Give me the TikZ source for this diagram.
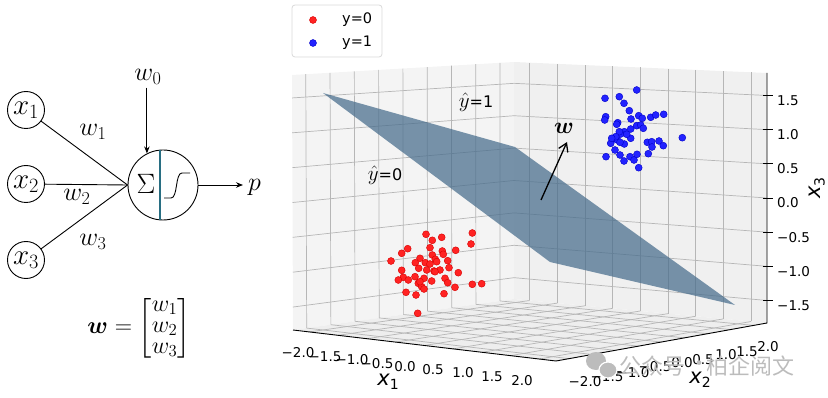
\RequirePackage{fix-cm}
\documentclass[tikz,border=0pt]{standalone}
\usepackage{amsmath}
\usepackage{fontspec}
\usetikzlibrary{calc,arrows.meta}
\newfontfamily\mpl{DejaVu Sans}
\newfontfamily\cjk{Noto Sans CJK SC}
\definecolor{gridc}{RGB}{182,182,182}
\definecolor{paneL}{RGB}{244,244,244}
\definecolor{paneR}{RGB}{240,240,240}
\definecolor{paneF}{RGB}{238,238,238}
\definecolor{planec}{RGB}{70,108,140}
\definecolor{rfill}{RGB}{255,35,35}
\definecolor{rdraw}{RGB}{215,0,0}
\definecolor{bfill}{RGB}{35,35,255}
\definecolor{bdraw}{RGB}{0,0,200}
\definecolor{divc}{RGB}{40,110,130}
\definecolor{wmc}{RGB}{188,188,188}
\newcommand\axl[1]{{\mpl\fontsize{21}{22}\selectfont\itshape x\raisebox{-4pt}{\upshape\fontsize{14}{14}\selectfont #1}}}
\begin{document}
\begin{tikzpicture}[x=1pt,y=-1pt,
  inp/.style={circle,draw,line width=0.9pt,minimum size=37pt,inner sep=0pt,font=\fontsize{29}{30}\selectfont},
  neuron/.style={circle,draw,line width=0.9pt,minimum size=70pt,inner sep=0pt},
  conn/.style={line width=0.9pt},
  arr/.style={line width=0.9pt,-{Stealth[length=7pt,width=5.5pt]}},
  mlab/.style={inner sep=0pt,font=\fontsize{26}{27}\selectfont},
  gridline/.style={draw=gridc,line width=0.7pt},
  rdot/.style={fill=rfill,draw=rdraw,line width=0.4pt},
  bdot/.style={fill=bfill,draw=bdraw,line width=0.4pt},
  tlab/.style={inner sep=0pt,font=\mpl\fontsize{13.5}{15}\selectfont},
  leglab/.style={inner sep=0pt,anchor=west,font=\mpl\fontsize{14.5}{16}\selectfont},
  yhat/.style={inner sep=0pt,font=\mpl\fontsize{16}{17}\selectfont},
  wm/.style={inner sep=0pt,anchor=west,text=wmc,font=\cjk\fontsize{22}{23}\selectfont}
]
\useasboundingbox (0,0) rectangle (828,398);

% ---------------- neuron ----------------
\node[inp] (x1) at (26,110) {$x_1$};
\node[inp] (x2) at (26,184) {$x_2$};
\node[inp] (x3) at (26,260) {$x_3$};
\node[neuron] (s) at (163,185) {};
\draw[conn] (x1) -- (s.west);
\draw[conn] (x2) -- (s.west);
\draw[conn] (x3) -- (s.west);
\node[mlab] (lw1) at (93,132) {$w_1$};
\node[mlab] (lw2) at (77,197) {$w_2$};
\node[mlab] (lw3) at (93,242) {$w_3$};
\node[inner sep=0pt,font=\fontsize{28}{29}\selectfont] (sig) at (146,184) {$\Sigma$};
\draw[divc,line width=1.1pt] ($(s.center)+(-3,-34.8)$) -- ($(s.center)+(-3,34.8)$);
\draw[line width=0.9pt] (164,198) -- (171,198) .. controls (178,198) and (175,173) .. (182,173) -- (190,173);
\node[mlab] (w0) at (148,77) {$w_0$};
\draw[arr,shorten <=3pt] (w0.south -| s.117) -- (s.117);
\node[mlab,anchor=west] (p) at (248,187) {$p$};
\draw[arr,shorten >=5pt] (s.east) -- (s.east -| p.west);
\node[inner sep=0pt,font=\fontsize{24}{21}\selectfont] (wv) at (139,328)
  {$\boldsymbol{w}=\begin{bmatrix}w_1\\ w_2\\ w_3\end{bmatrix}$};

% ---------------- 3D axes ----------------
\coordinate (L) at (293,330);
\coordinate (B) at (514,299);
\coordinate (R) at (767,323);
\coordinate (F) at (556,361);
\coordinate (TL) at (292,75);
\coordinate (TB) at (514,62);
\coordinate (TR) at (767,73);

\fill[paneL] (L) -- (B) -- (TB) -- (TL) -- cycle;
\fill[paneR] (B) -- (R) -- (TR) -- (TB) -- cycle;
\fill[paneF] (L) -- (F) -- (R) -- (B) -- cycle;

\foreach \v in {-2,-1.5,...,2}{
  \pgfmathsetmacro\t{0.062+(\v+2)/4*0.875}
  \draw[gridline] ($(L)!\t!(B)$) -- ($(TL)!\t!(TB)$);
  \draw[gridline] ($(B)!\t!(R)$) -- ($(TB)!\t!(TR)$);
  \draw[gridline] ($(L)!\t!(F)$) -- ($(B)!\t!(R)$);
  \draw[gridline] ($(L)!\t!(B)$) -- ($(F)!\t!(R)$);
}
\foreach \z in {-1.5,-1,...,1.5}{
  \pgfmathsetmacro\t{0.09+(\z+1.5)/3*0.82}
  \draw[gridline] ($(L)!\t!(TL)$) -- ($(B)!\t!(TB)$);
  \draw[gridline] ($(B)!\t!(TB)$) -- ($(R)!\t!(TR)$);
}

% axis lines
\draw[line width=0.9pt] (L) -- (F) -- (R) -- (TR);

% z ticks and labels
\foreach \z/\lab in {-1.5/−1.5,-1/−1.0,-0.5/−0.5,0/0.0,0.5/0.5,1/1.0,1.5/1.5}{
  \pgfmathsetmacro\t{0.09+(\z+1.5)/3*0.82}
  \draw[line width=0.8pt] ($(R)!\t!(TR)+(-4,0)$) -- ++(10,0);
  \node[tlab,anchor=west] at ($(R)!\t!(TR)+(10,5)$) {\lab};
}
\node[inner sep=0pt,rotate=90] at (817,188) {\axl{3}};

% x1 tick labels
\foreach \a/\b/\lab in {298/353/−2.0,325/357/−1.5,352/360/−1.0,377/364/−0.5,405/367/0.0,433/370/0.5,463/373/1.0,492/377/1.5,522/381/2.0}
  \node[tlab] at (\a,\b) {\lab};
\node[inner sep=0pt] at (388,382) {\axl{1}};

% x2 tick labels
\foreach \a/\b/\lab in {585/382/−2.0,607/377/−1.5,633/373/−1.0,655/367/−0.5,682/363/0.0,703/360/0.5,726/355/1.0,747/352/1.5,768/347/2.0}
  \node[tlab] at (\a,\b) {\lab};
\node[inner sep=0pt] at (700,380) {\axl{2}};

% red points
\foreach \a/\b in {426/234.3,441.7/237.3,472.3/233,432.3/240.3,471/244,407.7/248.7,430/247.7,401.7/253.3,442.3/251,455.7/250.3,443.3/254.3,432.3/255,391/261,420/258.3,415.3/262.7,435.3/259.3,425.3/262.7,447.7/260.7,430/264,436.7/261.7,401.7/270.3,418.7/268.3,426.7/270,434/271,440/270,449/267.7,458.3/272.7,403.3/277.3,398.3/280,408.3/280,415/276.7,424/278.3,418.3/283.3,421.7/286.7,431.7/281,445/278.3,447.7/282.7,455/287.3,472.3/284.3,481.7/283.7,406/292.3,416/295,444/293.7,417.7/313.3,424/289,435/271.7,420/281.7}
  \filldraw[rdot] (\a,\b) circle (3.5);

% plane
\fill[planec,fill opacity=0.72] (323,93) -- (515,147) -- (735,305) -- (550,262) -- cycle;

% blue points
\foreach \a/\b in {636.7/90,605/98.3,619.3/96.7,624/103.3,629.3/110.7,605.7/116.7,604.7/120,631/119,638.7/115.7,642.3/118.3,650.7/117.3,655.7/115,663.7/114.3,617.7/122.7,616.7/124.3,624.3/131.7,630.7/129,636.7/125.7,640.7/125,643.3/128.3,620.7/134,613.3/139,610.7/143.3,617.3/140,624.3/144,630.7/138.3,615/150,606/156.7,620/155,624/161,630/156.7,634/160,637/154.3,638.7/167.7,648.3/153.7,647.3/142.3,651.7/141.7,659/141,663.3/145.7,652/147,682.3/137.7,619.3/131.7,615.7/136.7,620/142.3,626.7/134.3,611.7/138.3}
  \filldraw[bdot] (\a,\b) circle (3.5);

% normal vector
\coordinate (wa) at (541,200);
\coordinate (wb) at (567,142);
\draw[line width=1.3pt,-{Straight Barb[length=8pt,width=10pt,line width=1.3pt]}] (wa) -- (wb);
\node[inner sep=0pt,font=\fontsize{23}{24}\selectfont] (wl) at (564,128) {$\boldsymbol{w}$};

\node[yhat] (y1) at (476,102) {{\fontsize{21}{22}\selectfont$\hat{y}$}=1};
\node[yhat] (y0) at (385,175) {{\fontsize{21}{22}\selectfont$\hat{y}$}=0};

% legend
\draw[gray!30,fill=white,rounded corners=3pt,line width=0.8pt] (292,5) rectangle (382,57);
\filldraw[rdot] (313,20) circle (3.5);
\filldraw[bdot] (313,43) circle (3.5);
\node[leglab] (lg0) at (342,20) {y=0};
\node[leglab] (lg1) at (342,43) {y=1};

% watermark
\fill[wmc] (596,361) ellipse (10 and 9);
\filldraw[fill=wmc,draw=white,line width=1.2pt] (608,370) ellipse (9 and 8);
\node[wm] at (619,366) {公众号};
\node[wm] at (688,366) {·};
\node[wm] at (706,366) {柏企阅文};
\end{tikzpicture}
\end{document}
